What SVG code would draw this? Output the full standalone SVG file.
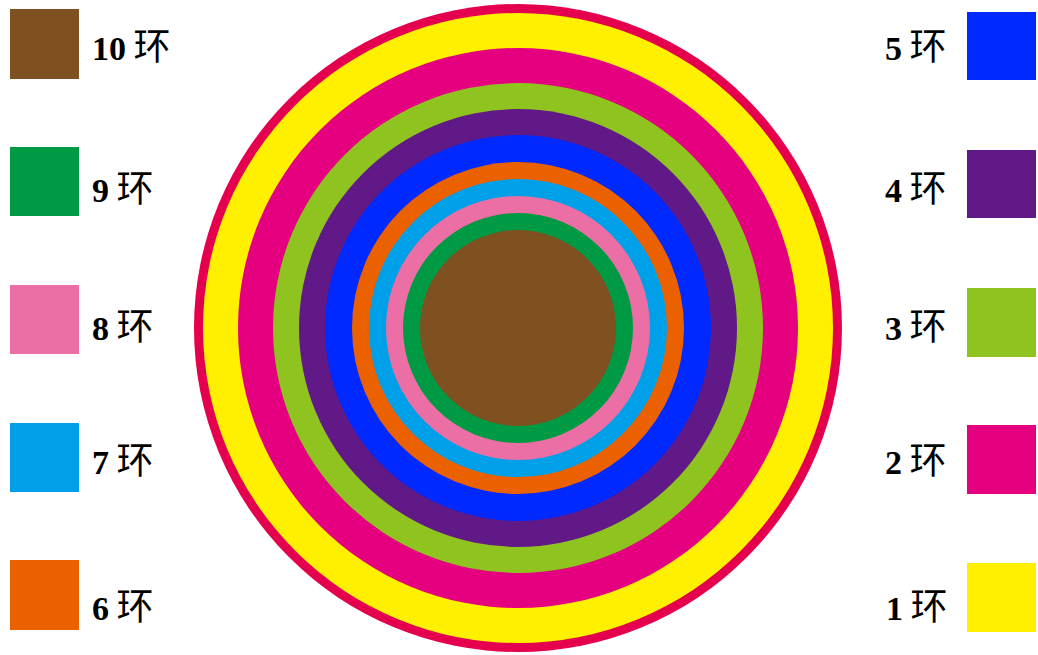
<svg xmlns="http://www.w3.org/2000/svg" width="1038" height="655" viewBox="0 0 1038 655">
<style>
.lbl{font-family:"Liberation Serif","Noto Sans CJK SC",serif;font-size:34px;fill:#000}
.num{font-weight:bold}
.cjk{font-family:"Noto Sans CJK SC",sans-serif;font-size:37px;font-weight:normal}
</style>
<rect width="1038" height="655" fill="#fff"/>
<g id="target">
<circle cx="518" cy="328" r="324" fill="#e5004f"/>
<circle cx="518" cy="328" r="315" fill="#fff000"/>
<circle cx="518" cy="328" r="280" fill="#e4007f"/>
<circle cx="518" cy="328" r="245" fill="#8fc31f"/>
<circle cx="518" cy="328" r="219" fill="#601986"/>
<circle cx="518" cy="328" r="193" fill="#0029ff"/>
<circle cx="518" cy="328" r="166" fill="#eb6100"/>
<circle cx="518" cy="328" r="149" fill="#00a0e9"/>
<circle cx="518" cy="328" r="132" fill="#eb6ea5"/>
<circle cx="518" cy="328" r="115" fill="#009944"/>
<circle cx="518" cy="328" r="98" fill="#7f5020"/>
</g>
<g id="legend10"><rect x="10" y="9" width="69" height="70" fill="#7f5020"/><text class="lbl" x="92" y="60"><tspan class="num">10</tspan> <tspan class="cjk" dx="-1">环</tspan></text></g>
<g id="legend9"><rect x="10" y="147" width="69" height="69" fill="#009944"/><text class="lbl" x="92" y="202"><tspan class="num">9</tspan> <tspan class="cjk" dx="-1">环</tspan></text></g>
<g id="legend8"><rect x="10" y="285" width="69" height="69" fill="#eb6ea5"/><text class="lbl" x="92" y="340"><tspan class="num">8</tspan> <tspan class="cjk" dx="-1">环</tspan></text></g>
<g id="legend7"><rect x="10" y="423" width="69" height="69" fill="#00a0e9"/><text class="lbl" x="92" y="474"><tspan class="num">7</tspan> <tspan class="cjk" dx="-1">环</tspan></text></g>
<g id="legend6"><rect x="10" y="560" width="69" height="70" fill="#eb6100"/><text class="lbl" x="92" y="620"><tspan class="num">6</tspan> <tspan class="cjk" dx="-1">环</tspan></text></g>
<g id="legend5"><rect x="967" y="12" width="69" height="68" fill="#0029ff"/><text class="lbl" x="885" y="60"><tspan class="num">5</tspan> <tspan class="cjk" dx="-1">环</tspan></text></g>
<g id="legend4"><rect x="967" y="150" width="69" height="68" fill="#601986"/><text class="lbl" x="885" y="202"><tspan class="num">4</tspan> <tspan class="cjk" dx="-1">环</tspan></text></g>
<g id="legend3"><rect x="967" y="288" width="69" height="69" fill="#8fc31f"/><text class="lbl" x="885" y="340"><tspan class="num">3</tspan> <tspan class="cjk" dx="-1">环</tspan></text></g>
<g id="legend2"><rect x="967" y="425" width="69" height="69" fill="#e4007f"/><text class="lbl" x="885" y="474"><tspan class="num">2</tspan> <tspan class="cjk" dx="-1">环</tspan></text></g>
<g id="legend1"><rect x="967" y="563" width="69" height="69" fill="#fff000"/><text class="lbl" x="886" y="620"><tspan class="num">1</tspan> <tspan class="cjk" dx="-1">环</tspan></text></g>
<g id="connectors"/>
</svg>
